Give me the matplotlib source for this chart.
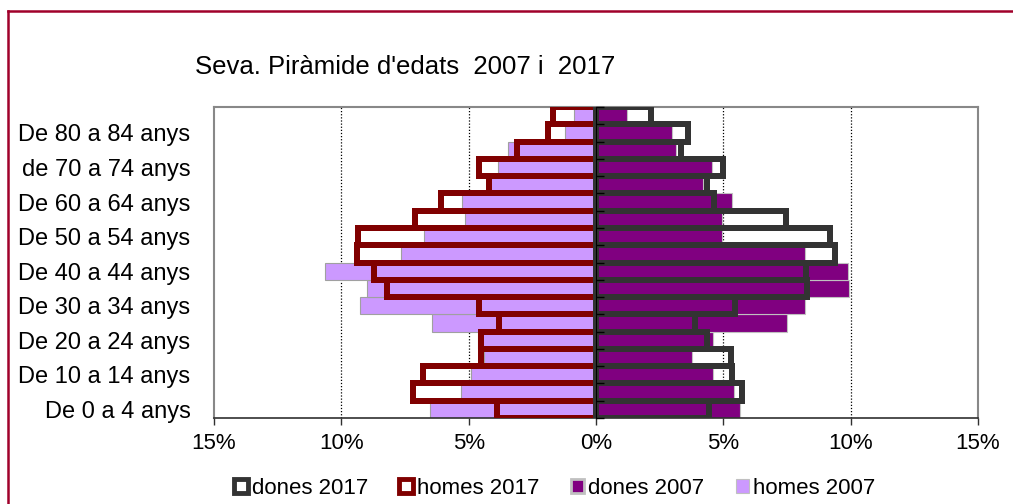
import numpy as np
import matplotlib
matplotlib.use("Agg")
import matplotlib.pyplot as plt
from matplotlib.patches import Patch
from matplotlib.lines import Line2D

plt.rcParams['font.family'] = ['Liberation Sans', 'DejaVu Sans']

# age groups, bottom (0-4) to top (85+); only every other one gets a label
groups = ["0-4", "5-9", "10-14", "15-19", "20-24", "25-29", "30-34", "35-39", "40-44",
          "45-49", "50-54", "55-59", "60-64", "65-69", "70-74", "75-79", "80-84", "85+"]
labels = ["De 0 a 4 anys", "", "De 10 a 14 anys", "", "De 20 a 24 anys", "",
          "De 30 a 34 anys", "", "De 40 a 44 anys", "", "De 50 a 54 anys", "",
          "De 60 a 64 anys", "", "de 70 a 74 anys", "", "De 80 a 84 anys", ""]

# % of population
homes_2017 = [3.9, 7.2, 6.8, 4.5, 4.5, 3.8, 4.6, 8.2, 8.7, 9.4, 9.35, 7.1, 6.1, 4.2, 4.6, 3.1, 1.9, 1.7]
homes_2007 = [6.5, 5.3, 4.9, 4.4, 4.65, 6.45, 9.25, 9.0, 10.65, 7.65, 6.75, 5.15, 5.25, 4.15, 3.85, 3.45, 1.2, 0.85]
dones_2017 = [4.45, 5.75, 5.35, 5.3, 4.35, 3.9, 5.45, 8.3, 8.25, 9.4, 9.2, 7.45, 4.65, 4.35, 5.0, 3.35, 3.6, 2.15]
dones_2007 = [5.65, 5.4, 4.6, 3.75, 4.6, 7.5, 8.2, 9.95, 9.9, 8.2, 4.95, 4.95, 5.35, 4.2, 4.55, 3.15, 3.0, 1.2]

xticks = [-15, -10, -5, 0, 5, 10, 15]

c_d17 = '#333333'
c_h17 = '#800000'
c_d07 = '#800080'
c_h07 = '#CC99FF'

fig = plt.figure(figsize=(10.13, 5.04), dpi=100)
ax = fig.add_axes([214 / 1013, 1 - 418 / 504, (978 - 214) / 1013, (418 - 107) / 504])

y = np.arange(len(groups))
lw17 = 6 * 72 / 100  # 6 px outline

ax.barh(y, -np.array(homes_2007), height=1.0, color=c_h07, edgecolor='#a0a0a0', linewidth=0.8, zorder=2)
ax.barh(y, dones_2007, height=1.0, color=c_d07, edgecolor='#c0c0c0', linewidth=0.8, zorder=2)
ax.barh(y, -np.array(homes_2017), height=1.0, fill=False, edgecolor=c_h17, linewidth=lw17, zorder=3)
ax.barh(y, dones_2017, height=1.0, fill=False, edgecolor=c_d17, linewidth=lw17, zorder=3)

ax.set_xlim(-15, 15)
ax.set_ylim(-0.5, len(groups) - 0.5)

for g in [-10, -5, 5, 10]:
    ax.axvline(g, color='black', linestyle=(0, (1, 1.5)), linewidth=0.9, zorder=1)

ax.set_xticks(xticks)
ax.set_xticklabels([f"{abs(v)}%" for v in xticks], fontsize=16)
ax.tick_params(axis='x', length=5, width=1, color='#303030', pad=6)
ax.set_yticks(y)
ax.set_yticklabels(labels, fontsize=17)
ax.tick_params(axis='y', length=0, pad=17)

for s in ['top', 'left', 'right']:
    ax.spines[s].set_color('#888888')
    ax.spines[s].set_linewidth(1.5)
ax.spines['bottom'].set_color('#303030')
ax.spines['bottom'].set_linewidth(1.2)

# vertical axis at 0 with ticks at the group boundaries
sec = ax.secondary_yaxis(0.5)
sec.set_yticks(np.arange(-0.5, len(groups), 1.0))
sec.set_yticklabels([])
sec.tick_params(length=6, width=1, color='black', direction='out')
sec.spines['left'].set_color('#404040')
sec.spines['left'].set_linewidth(1.5)
sec.set_zorder(5)

fig.text(195 / 1013, 1 - 67 / 504, "Seva. Piràmide d'edats  2007 i  2017", fontsize=18.5, va='center', ha='left')

handles = [
    Patch(facecolor='white', edgecolor=c_d17, linewidth=3.5, label='dones 2017'),
    Patch(facecolor='white', edgecolor=c_h17, linewidth=3.5, label='homes 2017'),
    Patch(facecolor=c_d07, edgecolor='#c0c0c0', linewidth=2, label='dones 2007'),
    Patch(facecolor=c_h07, edgecolor='#c0c0c0', linewidth=0.8, label='homes 2007'),
]
fig.legend(handles=handles, loc='center', bbox_to_anchor=(555 / 1013, 1 - 488 / 504), ncol=4,
           frameon=False, fontsize=16, handlelength=0.6, handleheight=0.6,
           handletextpad=0.2, columnspacing=1.4, borderpad=0)

# outer frame (left and top edges)
fig.add_artist(Line2D([8 / 1013, 8 / 1013], [0, 1 - 11 / 504], color='#A0002A', linewidth=1.8))
fig.add_artist(Line2D([8 / 1013, 1], [1 - 11 / 504, 1 - 11 / 504], color='#A0002A', linewidth=1.8))

fig.savefig('out.png', dpi=100)
